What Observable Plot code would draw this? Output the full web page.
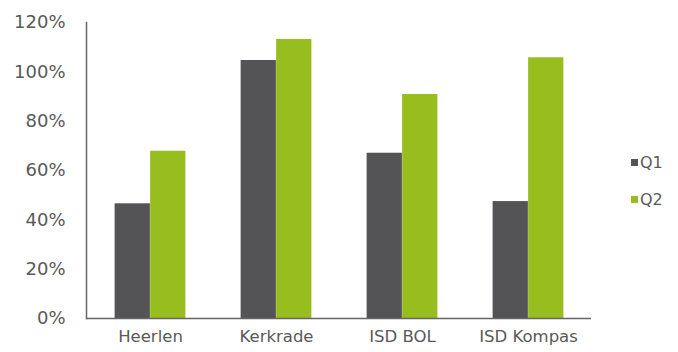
<!DOCTYPE html>
<html>
<head>
<meta charset="utf-8">
<script src="https://cdn.jsdelivr.net/npm/d3@7"></script>
<script src="https://cdn.jsdelivr.net/npm/@observablehq/plot@0.6"></script>
<style>
  html, body { margin: 0; padding: 0; background: #fff; }
  #wrap { position: relative; width: 678px; height: 352px; font-family: "DejaVu Sans", sans-serif; }
  .legend { position: absolute; left: 631px; top: 151px; color: #595959; font-size: 16px; }
  .legend div { display: flex; align-items: center; height: 22px; margin-bottom: 15px; }
  .legend span.sw { display: inline-block; width: 7px; height: 7px; margin-right: 2px; }
</style>
</head>
<body>
<div id="wrap"></div>
<script>
const categories = ["Heerlen", "Kerkrade", "ISD BOL", "ISD Kompas"];
const series = ["Q1", "Q2"];
const q1 = [0.465, 1.046, 0.67, 0.474];
const q2 = [0.678, 1.131, 0.908, 1.057];
const yTicks = [0, 0.2, 0.4, 0.6, 0.8, 1.0, 1.2];
const colors = ["#545457", "#97bd1f"];

const rows = categories.flatMap((c, i) => [
  {category: c, series: "Q1", value: q1[i]},
  {category: c, series: "Q2", value: q2[i]}
]);

const width = 678, height = 352;
const marginLeft = 86, marginRight = 87;
const bw = (width - marginLeft - marginRight) / categories.length;
const barW = 35.5;

const chart = Plot.plot({
  width, height,
  marginLeft, marginRight, marginTop: 22, marginBottom: 34,
  style: {fontFamily: "DejaVu Sans, sans-serif", fontSize: "16px", color: "#595959", background: "white"},
  x: {domain: categories, padding: 0, label: null},
  y: {domain: [0, 1.2], label: null},
  color: {domain: series, range: colors},
  marks: [
    Plot.barY(rows.filter(d => d.series === "Q1"), {x: "category", y: "value", fill: "series",
      insetLeft: bw / 2 - barW, insetRight: bw / 2}),
    Plot.barY(rows.filter(d => d.series === "Q2"), {x: "category", y: "value", fill: "series",
      insetLeft: bw / 2, insetRight: bw / 2 - barW}),
    Plot.ruleY([0], {stroke: "#666", strokeWidth: 1.5}),
    Plot.frame({anchor: "left", stroke: "#666", strokeWidth: 1.5}),
    Plot.axisY({ticks: yTicks, tickFormat: d3.format(".0%"), tickSize: 0, tickPadding: 21, fontSize: 18, label: null}),
    Plot.axisX({tickSize: 0, tickPadding: 12, fontSize: 16.5, label: null})
  ]
});

const wrap = document.getElementById("wrap");
wrap.appendChild(chart);

const legend = document.createElement("div");
legend.className = "legend";
series.forEach((s, i) => {
  const row = document.createElement("div");
  const sw = document.createElement("span");
  sw.className = "sw";
  sw.style.background = colors[i];
  const t = document.createElement("span");
  t.textContent = s;
  row.appendChild(sw);
  row.appendChild(t);
  legend.appendChild(row);
});
wrap.appendChild(legend);
</script>
</body>
</html>
